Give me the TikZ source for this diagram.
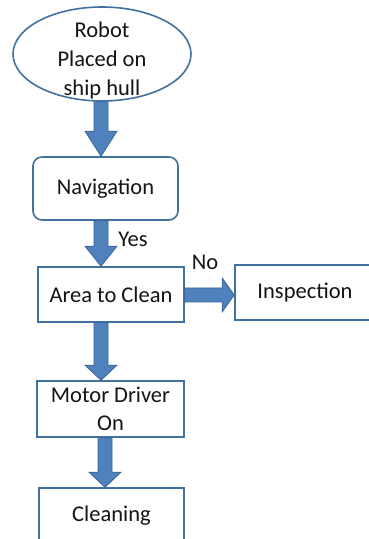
\documentclass[tikz,border=0pt]{standalone}
\usepackage{fontspec}
\setmainfont{Carlito}
\usetikzlibrary{shapes.geometric,calc}

\definecolor{boxline}{HTML}{41719C}
\definecolor{arrowfill}{HTML}{4F81BD}
\definecolor{arrowline}{HTML}{3A6594}
\definecolor{txt}{HTML}{141414}

\begin{document}
\begin{tikzpicture}[x=1pt,y=1pt,
  every node/.style={font=\fontsize{22.5}{29}\selectfont, text=txt},
  flowbox/.style={draw=boxline, line width=1.6pt, fill=white, align=center, inner sep=0pt},
  startoval/.style={flowbox, ellipse, minimum width=178, minimum height=94},
  hl/.code={\def\headlen{#1}},
  hl=18,
  downarrow/.style={fill=arrowfill, draw=arrowline, line width=0.8pt,
    to path={($(\tikztostart)+(-7pt,0)$) -- ($(\tikztotarget)+(-7pt,\headlen pt)$)
      -- ($(\tikztotarget)+(-16pt,\headlen pt)$) -- (\tikztotarget)
      -- ($(\tikztotarget)+(16pt,\headlen pt)$) -- ($(\tikztotarget)+(7pt,\headlen pt)$)
      -- ($(\tikztostart)+(7pt,0)$) -- cycle}},
  rightarrow/.style={fill=arrowfill, draw=arrowline, line width=0.8pt,
    to path={($(\tikztostart)+(0,7pt)$) -- ($(\tikztotarget)+(-\headlen pt,7pt)$)
      -- ($(\tikztotarget)+(-\headlen pt,17pt)$) -- (\tikztotarget)
      -- ($(\tikztotarget)+(-\headlen pt,-17pt)$) -- ($(\tikztotarget)+(-\headlen pt,-7pt)$)
      -- ($(\tikztostart)+(0,-7pt)$) -- cycle}}
]
\useasboundingbox (0,0) rectangle (369,539);
\clip (0,0) rectangle (369,539);

% flowchart steps
\node[startoval] (start) at (102,485) {};
\node[align=center] (starttext) at (102,478) {Robot\\Placed on\\ship hull};
\node[flowbox, rounded corners=9pt, minimum width=145, minimum height=63] (nav) at (105.5,350.5) {Navigation};
\node[flowbox, minimum width=146, minimum height=55] (area) at (111,244.5) {Area to Clean};
\node[flowbox, minimum width=140, minimum height=55] (insp) at (305,246.5) {Inspection};
\node[flowbox, minimum width=147, minimum height=56] (motor) at (110.5,130) {Motor Driver\\[-1pt]On};
\node[flowbox, minimum width=145, minimum height=56] (clean) at (111.5,23) {Cleaning};

% vertical lines that the down arrows follow
\coordinate (spine) at (101,0);
\coordinate (spineb) at (105,0);

% block arrows
\draw[downarrow, hl=25] (start.south -| spine) to (nav.north -| spine);
\draw[downarrow, hl=20] (nav.south -| spine) to (area.north -| spine);
\draw[downarrow, hl=15] (area.south -| spine) to (motor.north -| spine);
\draw[downarrow, hl=15] (motor.south -| spineb) to (clean.north -| spineb);
\draw[rightarrow, hl=12] (area.east |- 0,244) to (insp.west |- 0,244);

% branch labels
\node (yes) at (133,300) {Yes};
\node (no) at (205,277) {No};
\end{tikzpicture}
\end{document}
